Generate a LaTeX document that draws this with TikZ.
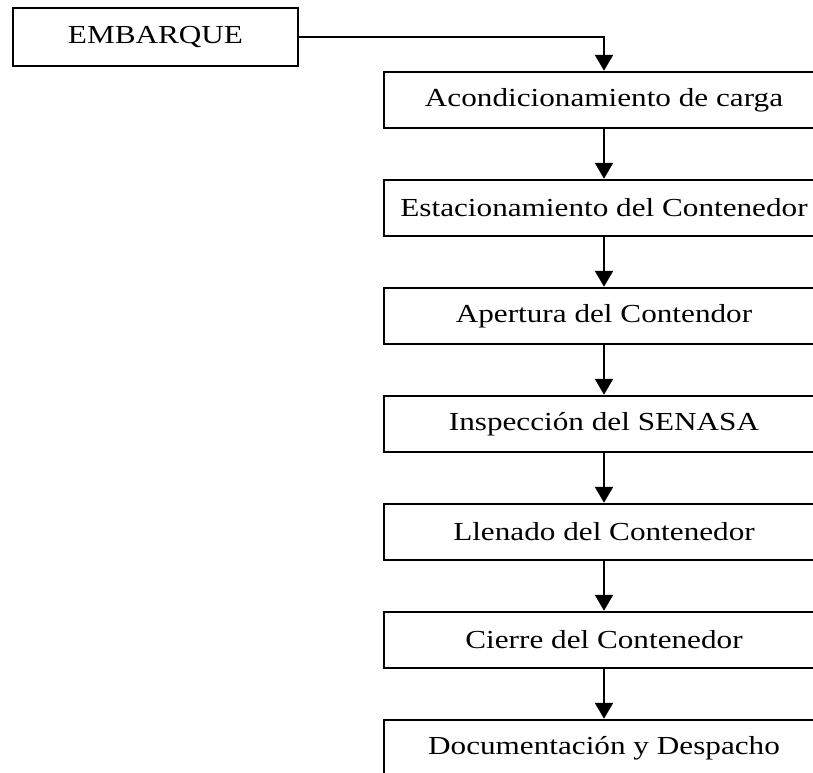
\documentclass[tikz,border=0pt]{standalone}
\usepackage{fontspec}
\setmainfont{Liberation Serif}[FakeStretch=1.2]
\usetikzlibrary{arrows.meta}
\begin{document}
\begin{tikzpicture}[x=1pt, y=-1pt,
	etapa/.style={draw, line width=2.5pt, minimum width=440pt, minimum height=56pt, inner sep=0pt, font=\fontsize{26}{31}\selectfont},
	inicio/.style={draw, line width=2.5pt, minimum width=285pt, minimum height=58pt, inner sep=0pt, font=\fontsize{26}{31}\selectfont},
	flecha/.style={line width=2.5pt, -{Triangle[length=16pt, width=18pt]}}]
	\useasboundingbox (0,0) rectangle (813,772);
	\clip (0,0) rectangle (813,772);
	\node[inicio] (e) at (155.5, 37) {EMBARQUE};
	\foreach \t [count=\i] in {Acondicionamiento de carga, Estacionamiento del Contenedor, Apertura del Contendor, Inspección del SENASA, Llenado del Contenedor, Cierre del Contenedor, Documentación y Despacho}{
		\node[etapa] (b\i) at (604, {100+108*(\i-1)}) {\t};
	}
	\draw[flecha] (e.east) -| (b1.north);
	\foreach \i [evaluate=\i as \j using int(\i+1)] in {1,...,6}{
		\draw[flecha] (b\i.south) -- (b\j.north);
	}
\end{tikzpicture}
\end{document}
